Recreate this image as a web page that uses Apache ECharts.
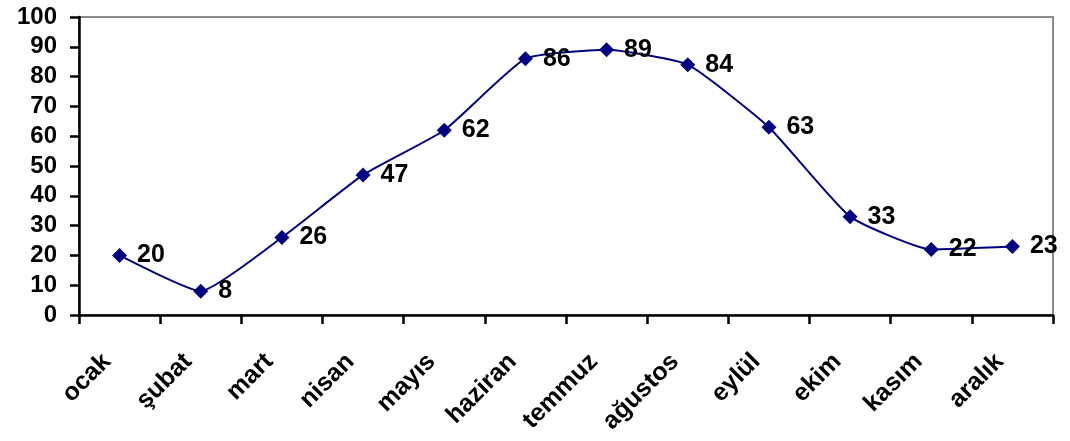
<!DOCTYPE html>
<html>
<head>
<meta charset="utf-8">
<script src="https://cdn.jsdelivr.net/npm/echarts@6/dist/echarts.min.js"></script>
<style>
  html, body { margin: 0; padding: 0; background: #fff; }
  #chart { width: 1070px; height: 441px; }
</style>
</head>
<body>
<div id="chart"></div>
<script>
// Monthly values
const months = ['ocak', 'şubat', 'mart', 'nisan', 'mayıs', 'haziran', 'temmuz', 'ağustos', 'eylül', 'ekim', 'kasım', 'aralık'];
const values = [20, 8, 26, 47, 62, 86, 89, 84, 63, 33, 22, 23];
const yTicks = [0, 10, 20, 30, 40, 50, 60, 70, 80, 90, 100];

const font = 'Arial, "Liberation Sans", sans-serif';
const chart = echarts.init(document.getElementById('chart'), null, { renderer: 'canvas' });

chart.setOption({
  animation: false,
  backgroundColor: '#ffffff',
  grid: {
    left: 79, right: 17, top: 17, bottom: 126,
    show: true, borderColor: '#8c8c8c', borderWidth: 2, containLabel: false
  },
  xAxis: {
    type: 'category',
    data: months,
    boundaryGap: true,
    axisLine: { show: true, lineStyle: { color: '#000', width: 2.5 } },
    axisTick: { show: true, length: 9, inside: false, lineStyle: { color: '#000', width: 2.5 } },
    axisLabel: {
      rotate: 45, margin: 30, interval: 0, padding: [0, 18, 0, 0],
      color: '#000', fontFamily: font, fontWeight: 'bold', fontSize: 25
    },
    splitLine: { show: false }
  },
  yAxis: {
    type: 'value',
    min: yTicks[0], max: yTicks[yTicks.length - 1], interval: 10,
    axisLine: { show: true, lineStyle: { color: '#000', width: 2.5 } },
    axisTick: { show: true, length: 9, lineStyle: { color: '#000', width: 2.5 } },
    axisLabel: {
      margin: 22, color: '#000', fontFamily: font, fontWeight: 'bold', fontSize: 24
    },
    splitLine: { show: false }
  },
  series: [{
    type: 'line',
    data: values,
    smooth: 0.15,
    symbol: 'diamond',
    symbolSize: [15, 15],
    itemStyle: { color: '#000080' },
    lineStyle: { color: '#000080', width: 2 },
    label: {
      show: true, position: 'right', distance: 10,
      color: '#000', fontFamily: font, fontWeight: 'bold', fontSize: 25
    }
  }]
});
</script>
</body>
</html>
